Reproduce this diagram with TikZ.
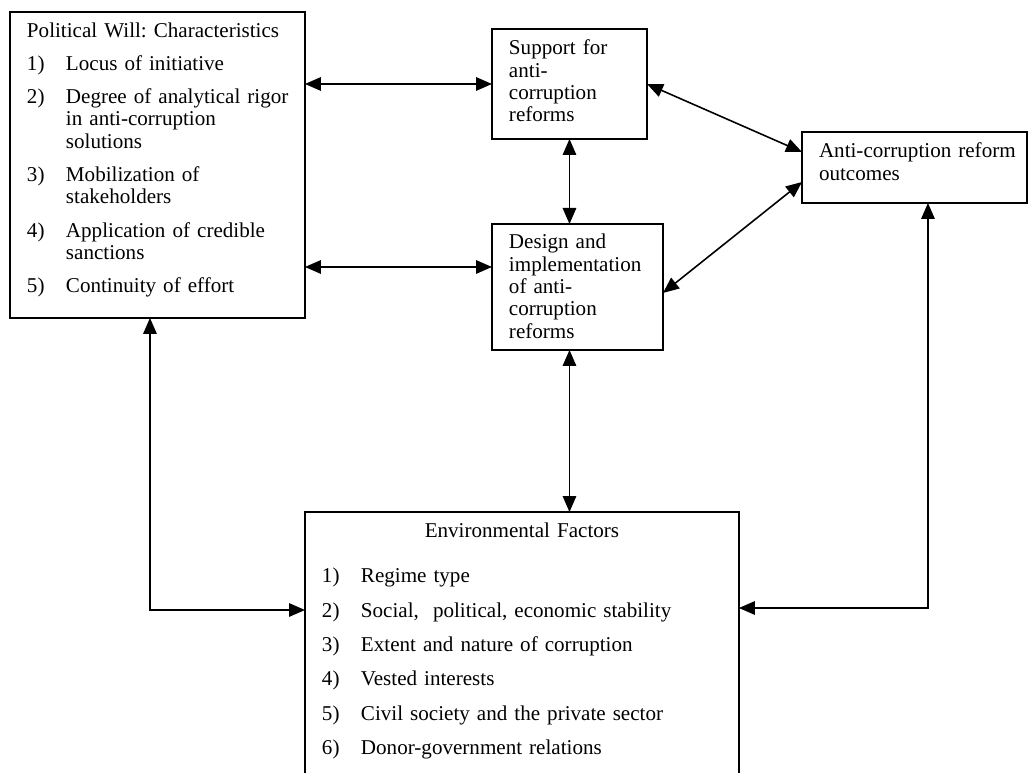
\documentclass[tikz,border=0pt]{standalone}
\usepackage{fontspec}
\setmainfont{Liberation Serif}
\usetikzlibrary{arrows.meta}
\frenchspacing

\begin{document}
\begin{tikzpicture}[x=0.02cm,y=-0.02cm,>={Triangle[length=0.32cm,width=0.27cm]},
    box/.style={draw,line width=1pt,anchor=north west,outer sep=0pt,inner xsep=0.34cm,inner ysep=0pt,
        text height=0.52cm,align=left,font=\fontsize{12}{12.7}\selectfont}]
    \useasboundingbox (0,0) rectangle (1029,773);
    \node[box,text width=5.22cm,text depth=5.6cm] (will) at (10,12) {%
        \begin{tabular}[t]{@{}p{0.78cm}@{}l@{}}
            \multicolumn{2}{@{}l@{}}{Political Will: Characteristics}\\[0.2cm]
            1) & Locus of initiative\\[0.22cm]
            2) & Degree of analytical rigor\\
               & in anti-corruption\\
               & solutions\\[0.22cm]
            3) & Mobilization of\\
               & stakeholders\\[0.22cm]
            4) & Application of credible\\
               & sanctions\\[0.22cm]
            5) & Continuity of effort
        \end{tabular}};
    \node[box,text width=2.42cm,text depth=1.68cm] (support) at (492,29) {Support for\\anti-\\corruption\\reforms};
    \node[box,text width=2.74cm,text height=0.5cm,text depth=2.02cm] (design) at (492,224) {Design and\\implementation\\of anti-\\corruption\\reforms};
    \node[box,text width=3.82cm,text depth=0.9cm] (outcome) at (802,132) {\mbox{Anti-corruption reform}\\outcomes};
    \node[box,text width=8cm,text depth=6cm] (env) at (305,512) {%
        {\centering Environmental Factors\par}\vspace{0.45cm}%
        \begin{tabular}[t]{@{}p{0.78cm}@{}l@{}}
            1) & Regime type\\[0.24cm]
            2) & Social,\ \ political, economic stability\\[0.24cm]
            3) & Extent and nature of corruption\\[0.24cm]
            4) & Vested interests\\[0.24cm]
            5) & Civil society and the private sector\\[0.24cm]
            6) & Donor-government relations
        \end{tabular}};
    \coordinate (designL) at ([yshift=0.4cm]design.west);
    \draw[<->,line width=0.9pt] (will.east |- support.west) -- (support.west);
    \draw[<->,line width=0.9pt] (will.east |- designL) -- (designL);
    \draw[<->,line width=0.9pt] (support.south) -- (support.south |- design.north);
    \draw[<->,line width=0.9pt] (support.east) -- ([yshift=0.31cm]outcome.west);
    \draw[<->,line width=0.9pt] ([yshift=-0.12cm]design.east) -- ([yshift=-0.29cm]outcome.west);
    \draw[<->,line width=0.9pt] (design.south -| support.south) -- (env.north -| support.south);
    \draw[<->,line width=0.9pt] ([xshift=-0.15cm]will.south) |- (env.north west |- 0,610);
    \draw[<->,line width=0.9pt] ([xshift=0.27cm]outcome.south) |- (env.north east |- 0,608);
\end{tikzpicture}
\end{document}
